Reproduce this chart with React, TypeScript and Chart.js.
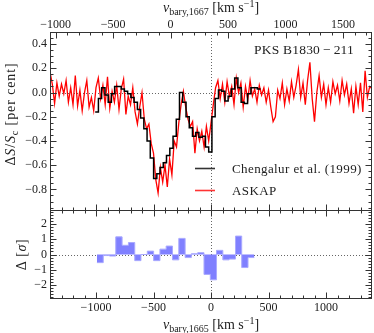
import React, { useEffect, useRef } from "react";
import { Chart, registerables } from "chart.js";

Chart.register(...registerables);

const SERIF = "'Liberation Serif', 'Times New Roman', serif";
const INK = "#222";

// ---------- data ----------
// ASKAP spectrum, velocity in 1665 MHz barycentric frame (km/s)
const askapVel = [
  -1400, -1380, -1360, -1340, -1320, -1300, -1280, -1260, -1240, -1220,
  -1200, -1180, -1160, -1140, -1120, -1100, -1080, -1060, -1040, -1020,
  -1000, -980, -960, -940, -920, -900, -880, -860, -840, -820,
  -800, -780, -760, -740, -720, -700, -680, -660, -640, -620,
  -600, -580, -560, -540, -520, -500, -480, -460, -440, -420,
  -400, -380, -360, -340, -320, -300, -280, -260, -240, -220,
  -200, -180, -160, -140, -120, -100, -80, -60, -40, -20,
  0, 20, 40, 60, 80, 100, 120, 140, 160, 180,
  200, 220, 240, 260, 280, 300, 320, 340, 360, 380,
  400, 420, 440, 460, 480, 500, 520, 540, 560, 580,
  600, 620, 640, 660, 680, 700, 720, 740, 760, 780,
  800, 820, 840, 860, 880, 900, 920, 940, 960, 980,
  1000, 1020, 1040, 1060, 1080, 1100, 1120, 1140, 1160, 1180,
  1200, 1220, 1240, 1260, 1280, 1300, 1320, 1340, 1360, 1380,
  1400,
];
const askapFlux = [
  0.17, 0.07, -0.09, 0.08, -0.03, 0.07, -0.01, 0.1, -0.08, 0.04,
  -0.1, 0.14, -0.11, 0.02, -0.15, 0.0, 0.1, -0.12, -0.04, -0.15,
  0.04, 0.12, -0.05, 0.06, -0.1, 0.13, -0.13, 0.01, -0.08, 0.06,
  -0.14, 0.03, 0.11, -0.18, -0.03, -0.1, 0.04, -0.16, -0.26, -0.12,
  0.0, -0.22, -0.3, -0.26, -0.42, -0.5, -0.72, -0.83, -0.62, -0.74,
  -0.6, -0.78, -0.55, -0.68, -0.4, -0.45, -0.25, -0.1, 0.01, -0.12,
  -0.22, -0.28, -0.24, -0.5, -0.3, -0.4, -0.32, -0.45, -0.28, -0.4,
  -0.25, -0.1, 0.04, 0.1, -0.05, 0.07, -0.08, 0.09, -0.03, 0.05,
  -0.1, 0.12, 0.0, 0.08, -0.12, 0.05, -0.06, 0.1, -0.03, 0.03,
  -0.08, 0.06, -0.02, 0.04, -0.08, 0.02, -0.12, -0.24, -0.2, 0.02,
  -0.05, 0.08, -0.1, 0.03, -0.07, 0.09, -0.04, 0.06, 0.19, -0.04,
  0.08, -0.1, 0.1, 0.25, -0.05, -0.24, 0.0, 0.14, -0.04, 0.07,
  -0.1, 0.04, -0.08, 0.09, -0.01, 0.06, -0.07, 0.1, -0.02, 0.07,
  -0.09, 0.03, -0.17, 0.05, -0.1, 0.08, -0.16, 0.18, -0.04, 0.05,
  0.03,
];

// Chengalur et al. (1999): channel edges (km/s) and channel values
const chengalurEdges = [
  -1007, -979, -951, -922, -894, -866, -838, -810, -781, -753,
  -725, -697, -669, -640, -612, -584, -556, -528, -499, -471,
  -443, -415, -387, -358, -330, -302, -274, -246, -217, -189,
  -161, -133, -105, -76, -48, -20, 8, 36, 65, 93,
  121, 149, 177, 206, 234, 262, 290, 318, 347, 375,
  403, 431,
];
const chengalurFlux = [
  -0.16, -0.05, 0.04, -0.02, -0.08, -0.01, 0.05, 0.05, 0.03, 0.01,
  -0.01, -0.04, -0.08, -0.14, -0.21, -0.3, -0.4, -0.54, -0.71, -0.67,
  -0.62, -0.58, -0.52, -0.46, -0.36, -0.22, 0.0, -0.08, -0.2, -0.29,
  -0.36, -0.33, -0.37, -0.36, -0.45, -0.49, -0.2, -0.05, 0.02, 0.01,
  -0.07, -0.03, 0.03, 0.12, 0.04, -0.08, -0.09, -0.01, 0.04, 0.04,
  0.03,
];

// residuals (sigma) in bins: edges and values
const residEdges = [
  -992, -937, -883, -828, -773, -718, -663, -609, -554, -499,
  -444, -390, -335, -280, -225, -171, -116, -61, -6, 48,
  103, 158, 213, 267, 322, 377,
];
const residSigma = [
  -0.53, -0.07, -0.1, 1.15, 0.6, 0.78, -0.4, 0.0, 0.22, -0.4,
  0.35, 0.55, -0.35, 1.05, -0.2, 0.05, 0.12, -1.3, -1.65, 0.27,
  -0.35, -0.3, 1.2, -0.85, -0.2,
];

// ticks
const xBottomTicks = [-1000, -500, 0, 500, 1000];
const xTopTicks = [-1000, -500, 0, 500, 1000, 1500];
const yTopTicks = [-0.8, -0.6, -0.4, -0.2, 0.0, 0.2, 0.4];
const yBotTicks = [-2, -1, 0, 1, 2];

const V_OFFSET_1667 = 352; // km/s between the 1665 and 1667 MHz frames
const X_MIN = -1400;
const X_MAX = 1400;
const YTOP_MIN = -0.97;
const YTOP_MAX = 0.5;
const YBOT_MIN = -2.9;
const YBOT_MAX = 2.9;

const seriesLabels = ["Chengalur et al. (1999)", "ASKAP"];
const seriesColors = ["#000000", "#ff0000"];
const sourceName = "PKS B1830\u2009\u2212\u2009211";

// ---------- helpers ----------
const fmt = (v: number, dec: number) =>
  (v < 0 ? "\u2212" : "") + Math.abs(v).toFixed(dec);

function minorList(min: number, max: number, step: number, majors: number[]) {
  const out: number[] = [];
  const k0 = Math.ceil(min / step - 1e-9);
  const k1 = Math.floor(max / step + 1e-9);
  for (let k = k0; k <= k1; k++) {
    const v = +(k * step).toFixed(6);
    if (!majors.some((m) => Math.abs(m - v) < step / 10)) out.push(v);
  }
  return out;
}

type Part = { t: string; size: number; italic?: boolean; dy?: number };

function drawParts(
  ctx: CanvasRenderingContext2D,
  parts: Part[],
  x: number,
  y: number,
  align: "left" | "center" | "right",
  spacing = 0
) {
  ctx.textBaseline = "alphabetic";
  ctx.textAlign = "left";
  (ctx as any).letterSpacing = spacing + "px";
  const fonts = parts.map(
    (p) => `${p.italic ? "italic " : ""}${p.size}px ${SERIF}`
  );
  const widths = parts.map((p, i) => {
    ctx.font = fonts[i];
    return ctx.measureText(p.t).width;
  });
  const total = widths.reduce((a, b) => a + b, 0);
  let cx = align === "center" ? x - total / 2 : align === "right" ? x - total : x;
  parts.forEach((p, i) => {
    ctx.font = fonts[i];
    ctx.fillText(p.t, cx, y + (p.dy || 0));
    cx += widths[i];
  });
  (ctx as any).letterSpacing = "0px";
}

const decorPlugin = {
  id: "decor",
  beforeDatasetsDraw(chart: any) {
    const { ctx } = chart;
    const xs = chart.scales.x;
    const yT = chart.scales.yTop;
    const yB = chart.scales.yBot;
    ctx.save();
    ctx.strokeStyle = "#555";
    ctx.lineWidth = 0.9;
    ctx.setLineDash([1, 2]);
    ctx.beginPath();
    const yt0 = Math.round(yT.getPixelForValue(0)) + 0.5;
    ctx.moveTo(xs.left, yt0);
    ctx.lineTo(xs.right, yt0);
    const yb0 = Math.round(yB.getPixelForValue(0)) + 0.5;
    ctx.moveTo(xs.left, yb0);
    ctx.lineTo(xs.right, yb0);
    const x0 = Math.round(xs.getPixelForValue(0)) + 0.5;
    ctx.moveTo(x0, yT.top);
    ctx.lineTo(x0, yB.bottom);
    ctx.stroke();
    ctx.restore();
  },
  afterDatasetsDraw(chart: any) {
    const { ctx } = chart;
    const xs = chart.scales.x;
    const x2 = chart.scales.x2;
    const yT = chart.scales.yTop;
    const yB = chart.scales.yBot;
    const L = Math.round(xs.left) + 0.5;
    const R = Math.round(xs.right) - 0.5;
    const T = Math.round(yT.top) + 0.5;
    const M = Math.round(yT.bottom) + 0.5;
    const B = Math.round(yB.bottom) - 0.5;
    const MAJ = 6;
    const MIN = 3;

    ctx.save();
    ctx.strokeStyle = "#333";
    ctx.lineWidth = 1;
    ctx.setLineDash([]);
    // frames
    ctx.strokeRect(L, T, R - L, M - T);
    ctx.strokeRect(L, M, R - L, B - M);

    const hT = (scale: any, vals: number[], y: number, dir: number, len: number) => {
      for (const v of vals) {
        const px = Math.round(scale.getPixelForValue(v)) + 0.5;
        if (px < L || px > R) continue;
        ctx.moveTo(px, y);
        ctx.lineTo(px, y + dir * len);
      }
    };
    const vT = (scale: any, vals: number[], x: number, dir: number, len: number) => {
      for (const v of vals) {
        const py = Math.round(scale.getPixelForValue(v)) + 0.5;
        ctx.moveTo(x, py);
        ctx.lineTo(x + dir * len, py);
      }
    };
    const xMinor = minorList(X_MIN, X_MAX, 100, xBottomTicks);
    const x2Minor = minorList(X_MIN + V_OFFSET_1667, X_MAX + V_OFFSET_1667, 100, xTopTicks);
    const ytMinor = minorList(YTOP_MIN, YTOP_MAX, 0.05, yTopTicks);
    const ybMinor = minorList(YBOT_MIN, YBOT_MAX, 0.2, yBotTicks);

    ctx.beginPath();
    // top panel
    hT(x2, xTopTicks, T, 1, MAJ);
    hT(x2, x2Minor, T, 1, MIN);
    hT(xs, xBottomTicks, M, -1, MAJ);
    hT(xs, xMinor, M, -1, MIN);
    vT(yT, yTopTicks, L, 1, MAJ);
    vT(yT, ytMinor, L, 1, MIN);
    vT(yT, yTopTicks, R, -1, MAJ);
    vT(yT, ytMinor, R, -1, MIN);
    // bottom panel
    hT(xs, xBottomTicks, M, 1, MAJ);
    hT(xs, xMinor, M, 1, MIN);
    hT(xs, xBottomTicks, B, -1, MAJ);
    hT(xs, xMinor, B, -1, MIN);
    vT(yB, yBotTicks, L, 1, MAJ);
    vT(yB, ybMinor, L, 1, MIN);
    vT(yB, yBotTicks, R, -1, MAJ);
    vT(yB, ybMinor, R, -1, MIN);
    ctx.stroke();

    // top-axis tick labels (1667 MHz frame)
    ctx.fillStyle = INK;
    for (const v of x2.ticks.map((t: any) => t.value)) {
      const px = x2.getPixelForValue(v);
      drawParts(ctx, [{ t: fmt(v, 0), size: 12 }], px, 28, "center");
    }

    // legend
    const ds = chart.data.datasets;
    const legendRows = [
      { y: 168.5, base: 173, i: 0 },
      { y: 190.5, base: 194.5, i: 1 },
    ];
    for (const row of legendRows) {
      ctx.beginPath();
      ctx.strokeStyle = row.i === 0 ? "#333" : "rgba(255,0,0,0.8)";
      ctx.lineWidth = 1.6;
      ctx.moveTo(195, row.y);
      ctx.lineTo(215, row.y);
      ctx.stroke();
      ctx.fillStyle = INK;
      drawParts(ctx, [{ t: ds[row.i].label, size: 13 }], 232, row.base, "left", 0.4);
    }

    // source name
    ctx.fillStyle = INK;
    drawParts(ctx, [{ t: sourceName, size: 13.5 }], 354, 54, "right", 0.2);

    // axis titles
    const cx = (xs.left + xs.right) / 2;
    drawParts(
      ctx,
      [
        { t: "v", size: 14, italic: true },
        { t: "bary,1667", size: 10, dy: 3 },
        { t: " [km s", size: 14 },
        { t: "\u22121", size: 10, dy: -5 },
        { t: "]", size: 14 },
      ],
      cx,
      12,
      "center"
    );
    drawParts(
      ctx,
      [
        { t: "v", size: 14, italic: true },
        { t: "bary,1665", size: 10, dy: 3 },
        { t: " [km s", size: 14 },
        { t: "\u22121", size: 10, dy: -5 },
        { t: "]", size: 14 },
      ],
      cx,
      329,
      "center"
    );
    ctx.save();
    ctx.translate(14.5, 114);
    ctx.rotate(-Math.PI / 2);
    drawParts(
      ctx,
      [
        { t: "\u0394", size: 14 },
        { t: "S", size: 14, italic: true },
        { t: "/", size: 14 },
        { t: "S", size: 14, italic: true },
        { t: "c", size: 10, dy: 3 },
        { t: " [per cent]", size: 14 },
      ],
      0,
      0,
      "center",
      0.9
    );
    ctx.restore();
    ctx.save();
    ctx.translate(26, (yB.top + yB.bottom) / 2);
    ctx.rotate(-Math.PI / 2);
    drawParts(
      ctx,
      [
        { t: "\u0394 [", size: 14 },
        { t: "\u03c3", size: 14, italic: true },
        { t: "]", size: 14 },
      ],
      0,
      0,
      "center",
      0.6
    );
    ctx.restore();
    ctx.restore();
  },
};

const tickFont = { family: SERIF, size: 12 };

export default function App() {
  const ref = useRef<HTMLCanvasElement>(null);
  useEffect(() => {
    const canvas = ref.current;
    if (!canvas) return;

    const askapPts = askapVel.map((v, i) => ({ x: v, y: askapFlux[i] }));
    const chengPts = chengalurEdges.map((v, i) => ({
      x: v,
      y: chengalurFlux[Math.min(i, chengalurFlux.length - 1)],
    }));
    const residPts = residEdges.map((v, i) => ({
      x: v,
      y: residSigma[Math.min(i, residSigma.length - 1)],
    }));

    const noGrid = { display: false, drawTicks: false };
    const noBorder = { display: false };

    const chart = new Chart(canvas, {
      type: "line",
      data: {
        datasets: [
          {
            label: seriesLabels[0],
            data: chengPts,
            xAxisID: "x",
            yAxisID: "yTop",
            stepped: "before",
            borderColor: seriesColors[0],
            borderWidth: 1.5,
            pointRadius: 0,
            fill: false,
            order: 0,
          },
          {
            label: seriesLabels[1],
            data: askapPts,
            xAxisID: "x",
            yAxisID: "yTop",
            borderColor: seriesColors[1],
            borderWidth: 1.3,
            pointRadius: 0,
            tension: 0,
            fill: false,
            order: 1,
          },
          {
            label: "residual",
            data: residPts,
            xAxisID: "x",
            yAxisID: "yBot",
            stepped: "before",
            borderColor: "rgba(170,170,255,1)",
            backgroundColor: "rgba(128,128,255,1)",
            borderWidth: 1,
            pointRadius: 0,
            fill: "origin",
            order: 2,
          },
        ],
      } as any,
      options: {
        responsive: false,
        animation: false,
        events: [],
        layout: { padding: { left: 0, right: 2, top: 0, bottom: 0 } },
        plugins: {
          legend: { display: false },
          tooltip: { enabled: false },
          title: { display: false },
        },
        scales: {
          x: {
            type: "linear",
            position: "bottom",
            min: X_MIN,
            max: X_MAX,
            grid: noGrid,
            border: noBorder,
            afterBuildTicks: (s: any) => {
              s.ticks = xBottomTicks.map((v) => ({ value: v }));
            },
            afterFit: (s: any) => {
              s.height = 34;
            },
            ticks: {
              font: tickFont,
              color: INK,
              padding: 2,
              maxRotation: 0,
              autoSkip: false,
              callback: (v: any) => fmt(Number(v), 0),
            },
          },
          x2: {
            type: "linear",
            position: "top",
            min: X_MIN + V_OFFSET_1667,
            max: X_MAX + V_OFFSET_1667,
            grid: noGrid,
            border: noBorder,
            afterBuildTicks: (s: any) => {
              s.ticks = xTopTicks.map((v) => ({ value: v }));
            },
            afterFit: (s: any) => {
              s.height = 32;
            },
            ticks: { display: false },
          },
          yBot: {
            type: "linear",
            position: "left",
            stack: "panels",
            stackWeight: 1,
            weight: 0,
            min: YBOT_MIN,
            max: YBOT_MAX,
            grid: noGrid,
            border: noBorder,
            afterBuildTicks: (s: any) => {
              s.ticks = yBotTicks.map((v) => ({ value: v }));
            },
            afterFit: (s: any) => {
              s.width = 50;
            },
            ticks: {
              font: tickFont,
              color: INK,
              padding: 3,
              autoSkip: false,
              callback: (v: any) => fmt(Number(v), 0),
            },
          },
          yTop: {
            type: "linear",
            position: "left",
            stack: "panels",
            stackWeight: 2,
            weight: 1,
            min: YTOP_MIN,
            max: YTOP_MAX,
            grid: noGrid,
            border: noBorder,
            afterBuildTicks: (s: any) => {
              s.ticks = yTopTicks.map((v) => ({ value: v }));
            },
            afterFit: (s: any) => {
              s.width = 50;
            },
            ticks: {
              font: tickFont,
              color: INK,
              padding: 3,
              autoSkip: false,
              callback: (v: any) => fmt(Number(v), 1),
            },
          },
        },
      } as any,
      plugins: [decorPlugin],
    });
    return () => chart.destroy();
  }, []);

  return (
    <div
      style={{
        position: "fixed",
        left: 0,
        top: 0,
        width: 374,
        height: 333,
        background: "#fff",
      }}
    >
      <canvas
        ref={ref}
        width={374}
        height={333}
        style={{ display: "block", width: 374, height: 333 }}
      />
    </div>
  );
}
